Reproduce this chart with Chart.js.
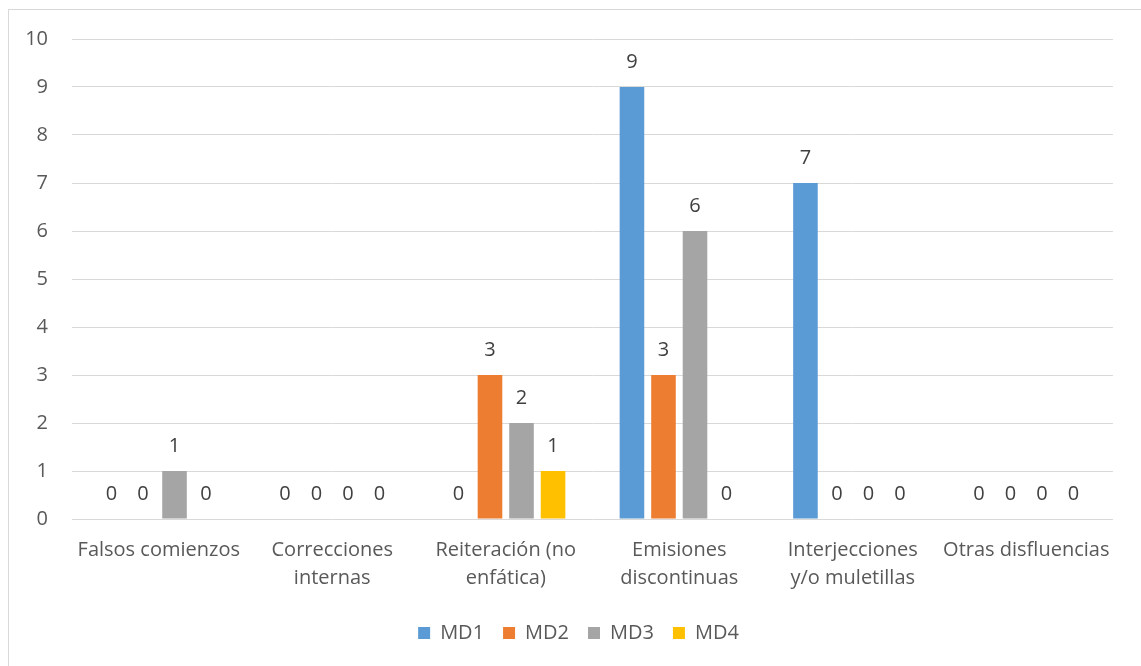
<!DOCTYPE html>
<html>
<head>
<meta charset="utf-8">
<script src="https://cdn.jsdelivr.net/npm/chart.js@4.4.1/dist/chart.umd.min.js"></script>
<style>
  html, body { margin: 0; padding: 0; background: #ffffff; }
  #wrap { width: 1141px; height: 666px; position: relative; }
</style>
</head>
<body>
<div id="wrap"><canvas id="chart" width="1141" height="666"></canvas></div>
<script>
// Disfluency categories (multi-line labels as drawn under the axis)
const categories = [
  'Falsos comienzos',
  ['Correcciones', 'internas'],
  ['Reiteración (no', 'enfática)'],
  ['Emisiones', 'discontinuas'],
  ['Interjecciones', 'y/o muletillas'],
  'Otras disfluencias'
];

const seriesNames = ['MD1', 'MD2', 'MD3', 'MD4'];
const md1 = [0, 0, 0, 9, 7, 0];
const md2 = [0, 0, 3, 3, 0, 0];
const md3 = [1, 0, 2, 6, 0, 0];
const md4 = [0, 0, 1, 0, 0, 0];
const seriesColors = ['#5B9BD5', '#ED7D31', '#A5A5A5', '#FFC000'];

const yTicks = [0, 1, 2, 3, 4, 5, 6, 7, 8, 9, 10];

const FONT = '"Open Sans", "DejaVu Sans", sans-serif';

// white page with the light frame around the chart
const frame = {
  id: 'frame',
  beforeDraw(chart) {
    const c = chart.ctx;
    c.save();
    c.fillStyle = '#ffffff';
    c.fillRect(0, 0, chart.width, chart.height);
    c.strokeStyle = '#d9d9d9';
    c.lineWidth = 1;
    c.strokeRect(8.5, 9.5, 1400, 900);
    c.restore();
  }
};

// nudge the legend row a little to the right of the canvas centre
const legendOffset = {
  id: 'legendOffset',
  afterLayout(chart) {
    if (chart.legend) {
      chart.legend.left += 22;
      chart.legend.right += 22;
    }
  }
};

// value printed above every bar (including zero bars)
const valueLabels = {
  id: 'valueLabels',
  afterDatasetsDraw(chart) {
    const c = chart.ctx;
    c.save();
    c.font = '20px ' + FONT;
    c.fillStyle = '#404040';
    c.textAlign = 'center';
    c.textBaseline = 'alphabetic';
    chart.data.datasets.forEach((ds, i) => {
      const meta = chart.getDatasetMeta(i);
      meta.data.forEach((bar, j) => {
        c.fillText(String(ds.data[j]), bar.x, bar.y - 19);
      });
    });
    c.restore();
  }
};

const datasets = [md1, md2, md3, md4].map((vals, i) => ({
  label: seriesNames[i],
  data: vals,
  backgroundColor: seriesColors[i],
  borderWidth: 0,
  categoryPercentage: 0.727,
  barPercentage: 0.78
}));

new Chart(document.getElementById('chart'), {
  type: 'bar',
  data: { labels: categories, datasets },
  options: {
    responsive: false,
    animation: false,
    layout: { padding: { top: 39, left: 0, right: 28, bottom: 13 } },
    plugins: {
      tooltip: { enabled: false },
      legend: {
        position: 'bottom',
        labels: {
          font: { family: FONT, size: 20 },
          color: '#595959',
          boxWidth: 12,
          boxHeight: 12,
          padding: 19
        }
      }
    },
    scales: {
      x: {
        grid: { display: false, drawTicks: false },
        border: { display: false },
        ticks: {
          color: '#595959',
          font: { family: FONT, size: 20, lineHeight: 1.4 },
          padding: 17,
          maxRotation: 0,
          minRotation: 0,
          autoSkip: false
        },
        afterFit(scale) { scale.height = 85; }
      },
      y: {
        min: 0,
        max: 10,
        afterBuildTicks(scale) { scale.ticks = yTicks.map(v => ({ value: v })); },
        grid: { color: '#d9d9d9', lineWidth: 1, drawTicks: false },
        border: { display: false },
        ticks: {
          color: '#595959',
          font: { family: FONT, size: 20 },
          padding: 24
        },
        afterFit(scale) { scale.width = 72; }
      }
    }
  },
  plugins: [frame, legendOffset, valueLabels]
});
</script>
</body>
</html>
